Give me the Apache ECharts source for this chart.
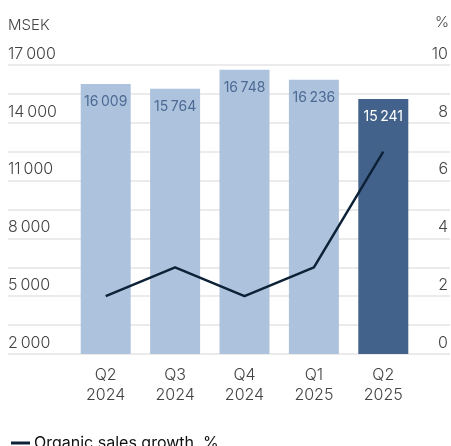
<!DOCTYPE html>
<html>
<head>
<meta charset="utf-8">
<script src="https://cdn.jsdelivr.net/npm/echarts@6/dist/echarts.min.js"></script>
<style>
  html, body { margin: 0; padding: 0; background: #fff; }
  #chart-container { width: 451px; height: 446px; }
</style>
</head>
<body>
<div id="chart-container"></div>
<script>
var categories = ['Q2\n2024', 'Q3\n2024', 'Q4\n2024', 'Q1\n2025', 'Q2\n2025'];
var netSales = [16009, 15764, 16748, 16236, 15241];
var organicGrowth = [2, 3, 2, 3, 7];
var leftTicks = [2000, 5000, 8000, 11000, 14000, 17000];
var rightTicks = [0, 2, 4, 6, 8, 10];

var FONT = 'Inter';
var lightBar = '#adc2dd';
var darkBar = '#42628b';

function fmt(v) {
  return String(v).replace(/\B(?=(\d{3})+(?!\d))/g, '\u2009');
}

var dom = document.getElementById('chart-container');
var myChart = echarts.init(dom, null, { renderer: 'canvas' });

var option = {
  animation: false,
  textStyle: { fontFamily: FONT },
  grid: [
    { left: 71, right: 32, top: 65, bottom: 92 },
    { left: 8, right: 1, top: 65, bottom: 92 }
  ],
  graphic: [
    { type: 'text', left: 8, top: 18, style: { text: 'MSEK', fontFamily: FONT, fontSize: 15, fontWeight: 300, fill: '#444' } },
    { type: 'text', right: 2, top: 15, style: { text: '%', fontFamily: FONT, fontSize: 15, fontWeight: 300, fill: '#444' } }
  ],
  legend: {
    left: 6,
    top: 430,
    icon: 'rect',
    itemWidth: 19,
    itemHeight: 3,
    itemGap: 6,
    data: ['Organic sales growth, %'],
    textStyle: { fontFamily: FONT, fontSize: 16, color: '#111', padding: [0, 0, 0, -1] }
  },
  xAxis: [
    {
      type: 'category',
      gridIndex: 0,
      data: categories,
      axisLine: { show: false },
      axisTick: { show: false },
      axisLabel: { color: '#444', fontSize: 16, fontWeight: 300, lineHeight: 20, margin: 11, fontFamily: FONT }
    },
    {
      type: 'category',
      gridIndex: 1,
      data: categories,
      show: false
    }
  ],
  yAxis: [
    {
      type: 'value',
      gridIndex: 0,
      position: 'left',
      min: 2000,
      max: 17000,
      splitLine: { show: false },
      axisLine: { show: false },
      axisTick: { show: false },
      axisLabel: {
        customValues: leftTicks,
        align: 'left',
        verticalAlign: 'bottom',
        margin: 63,
        padding: [0, 0, 3, 0],
        color: '#444',
        fontSize: 16,
        fontWeight: 300,
        fontFamily: FONT,
        formatter: function (v) { return fmt(v); }
      }
    },
    {
      type: 'value',
      gridIndex: 0,
      position: 'right',
      min: 0,
      max: 10,
      splitLine: { show: false },
      axisLine: { show: false },
      axisTick: { show: false },
      axisLabel: {
        customValues: rightTicks,
        align: 'right',
        verticalAlign: 'bottom',
        margin: 30,
        padding: [0, 0, 3, 0],
        color: '#444',
        fontSize: 16,
        fontWeight: 300,
        fontFamily: FONT
      }
    },
    {
      type: 'value',
      gridIndex: 1,
      min: 0,
      max: 10,
      interval: 1,
      axisLine: { show: false },
      axisTick: { show: false },
      axisLabel: { show: false },
      splitLine: { lineStyle: { color: '#e4e4e4', width: 1.5 } }
    }
  ],
  series: [
    {
      name: 'Net sales, MSEK',
      type: 'bar',
      xAxisIndex: 0,
      yAxisIndex: 0,
      barWidth: 50,
      data: netSales.map(function (v, i) {
        var last = i === netSales.length - 1;
        return {
          value: v,
          itemStyle: { color: last ? darkBar : lightBar },
          label: { color: last ? '#ffffff' : '#4c6a94' }
        };
      }),
      label: {
        show: true,
        position: 'insideTop',
        distance: 11,
        fontSize: 14,
        fontFamily: FONT,
        formatter: function (p) { return fmt(p.value); }
      }
    },
    {
      name: 'Organic sales growth, %',
      type: 'line',
      xAxisIndex: 0,
      yAxisIndex: 1,
      data: organicGrowth,
      symbol: 'none',
      lineStyle: { color: '#0d2236', width: 2.5 },
      itemStyle: { color: '#0d2236' }
    }
  ]
};

myChart.setOption(option);
window.addEventListener('resize', myChart.resize);
</script>
</body>
</html>
